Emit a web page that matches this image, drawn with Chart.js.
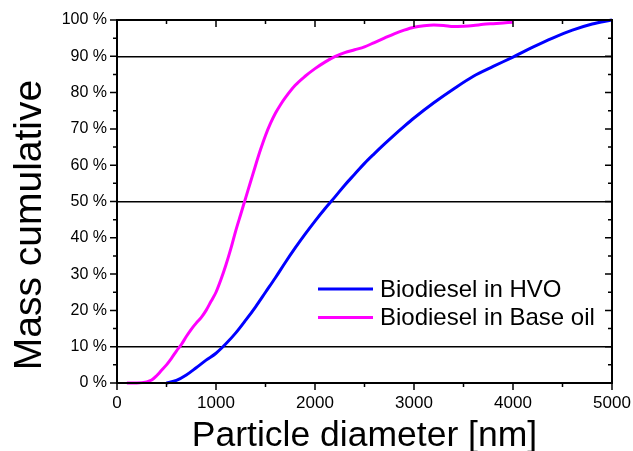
<!DOCTYPE html>
<html>
<head>
<meta charset="utf-8">
<script src="https://cdn.jsdelivr.net/npm/chart.js@4.4.0/dist/chart.umd.min.js"></script>
<style>
  html, body { margin: 0; padding: 0; background: #fff; }
</style>
</head>
<body>
<canvas id="psdChart" width="633" height="451"></canvas>
<script>
// particle size distribution
var seriesNames = ['Biodiesel in HVO', 'Biodiesel in Base oil'];
var seriesColors = ['#0000ff', '#ff00ff'];

var hvoDiameter = [500, 600, 700, 800, 900, 1000, 1100, 1200, 1300, 1400, 1500, 1600, 1700, 1800, 1900, 2000,
    2100, 2200, 2300, 2400, 2500, 2600, 2700, 2800, 2900, 3000, 3200, 3400, 3600, 3800, 4000, 4200, 4400, 4600, 4800, 5000];
var hvoMass = [0, 0.7, 2.2, 4.2, 6.3, 8.2, 10.8, 13.8, 17.3, 21, 25, 29, 33.2, 37.2, 41, 44.6,
    48, 51.2, 54.5, 57.5, 60.5, 63.2, 65.8, 68.3, 70.7, 73, 77.2, 81, 84.5, 87.2, 89.8, 92.5, 95, 97.2, 98.9, 100];

var baseDiameter = [100, 200, 300, 350, 400, 450, 500, 550, 600, 650, 700, 750, 800, 850, 900, 950, 1000,
    1050, 1100, 1150, 1200, 1250, 1300, 1350, 1400, 1450, 1500, 1550, 1600, 1650, 1700, 1800, 1900, 2000, 2100, 2200,
    2300, 2400, 2500, 2600, 2700, 2800, 2900, 3000, 3100, 3200, 3300, 3400, 3500, 3600, 3700, 3800, 3900, 4000];
var baseMass = [0, 0, 0.3, 0.8, 2, 3.5, 5, 6.8, 8.8, 10.6, 12.8, 14.8, 16.5, 18, 20, 22.5, 25,
    28.5, 32.5, 37, 42, 46.5, 51, 55.5, 60, 64.3, 68.2, 71.5, 74.3, 76.6, 78.6, 82, 84.5, 86.6, 88.4, 89.9,
    91, 91.8, 92.6, 93.8, 95, 96.2, 97.2, 98, 98.4, 98.6, 98.5, 98.2, 98.3, 98.5, 98.8, 99, 99.2, 99.4];

var xTickValues = [0, 1000, 2000, 3000, 4000, 5000];
var yTickValues = [0, 10, 20, 30, 40, 50, 60, 70, 80, 90, 100];
var refLines = [10, 50, 90];

function toPoints(xs, ys) {
    return xs.map(function (x, i) { return { x: x, y: ys[i] }; });
}

var fontFamily = '"Liberation Sans", Arial, sans-serif';

// frame, major/minor ticks, y title and legend drawn on top
var framePlugin = {
    id: 'frame',
    afterDraw: function (chart) {
        var c = chart.ctx, a = chart.chartArea;
        var xs = chart.scales.x, ys = chart.scales.y;
        c.save();
        c.strokeStyle = '#000';
        c.lineWidth = 2;
        c.strokeRect(a.left, a.top, a.right - a.left, a.bottom - a.top);

        c.lineWidth = 1.5;
        c.beginPath();
        for (var v = 0; v <= 100; v += 5) {
            var py = ys.getPixelForValue(v);
            var len = (v % 10 === 0) ? 7 : 4;
            c.moveTo(a.left - len, py); c.lineTo(a.left, py);
            c.moveTo(a.right, py); c.lineTo(a.right - len, py);
        }
        for (var d = 0; d <= 5000; d += 500) {
            var px = xs.getPixelForValue(d);
            var l2 = (d % 1000 === 0) ? 7 : 4;
            c.moveTo(px, a.bottom); c.lineTo(px, a.bottom + l2);
            c.moveTo(px, a.top); c.lineTo(px, a.top + l2);
        }
        c.stroke();

        // y axis title, a little below the middle like the original
        c.fillStyle = '#000';
        c.font = '39px ' + fontFamily;
        c.textAlign = 'center';
        c.textBaseline = 'middle';
        c.translate(30, 225);
        c.rotate(-Math.PI / 2);
        c.fillText('Mass cumulative', 0, 0);
        c.setTransform(1, 0, 0, 1, 0, 0);

        // legend
        c.font = '24px ' + fontFamily;
        c.textAlign = 'left';
        chart.data.datasets.forEach(function (ds, i) {
            var ly = 289 + i * 28.5;
            c.strokeStyle = ds.borderColor;
            c.lineWidth = 3;
            c.beginPath();
            c.moveTo(318, ly); c.lineTo(373, ly);
            c.stroke();
            c.fillText(ds.label, 380, ly + 1);
        });
        c.restore();
    }
};

new Chart(document.getElementById('psdChart').getContext('2d'), {
    type: 'line',
    data: {
        datasets: [{
            label: seriesNames[0],
            data: toPoints(hvoDiameter, hvoMass),
            borderColor: seriesColors[0],
            borderWidth: 3,
            pointRadius: 0,
            cubicInterpolationMode: 'monotone',
            clip: 4
        }, {
            label: seriesNames[1],
            data: toPoints(baseDiameter, baseMass),
            borderColor: seriesColors[1],
            borderWidth: 3,
            pointRadius: 0,
            cubicInterpolationMode: 'monotone',
            clip: 4
        }]
    },
    options: {
        responsive: false,
        animation: false,
        layout: { padding: { top: 20, right: 21, left: 0, bottom: 0 } },
        plugins: {
            legend: { display: false },
            tooltip: { enabled: false }
        },
        scales: {
            x: {
                type: 'linear',
                min: 0,
                max: 5000,
                afterFit: function (s) { s.height = 68; s.paddingLeft = 0; s.paddingRight = 0; },
                afterBuildTicks: function (s) { s.ticks = xTickValues.map(function (v) { return { value: v }; }); },
                ticks: {
                    color: '#000', font: { family: fontFamily, size: 17 }, padding: 10, maxRotation: 0,
                    callback: function (v) { return String(v); }
                },
                grid: { display: false, drawTicks: false },
                border: { display: false },
                title: { display: true, text: 'Particle diameter [nm]', color: '#000',
                         font: { family: fontFamily, size: 35.5 }, padding: { top: 0, bottom: -7 } }
            },
            y: {
                min: 0,
                max: 100,
                afterFit: function (s) { s.width = 117; },
                afterBuildTicks: function (s) { s.ticks = yTickValues.map(function (v) { return { value: v }; }); },
                ticks: {
                    color: '#000', font: { family: fontFamily, size: 16 }, padding: 10,
                    callback: function (v) { return v + ' %'; }
                },
                grid: {
                    drawTicks: false,
                    lineWidth: 1.5,
                    color: function (ctx) {
                        return refLines.indexOf(ctx.tick.value) >= 0 ? '#000' : 'rgba(0,0,0,0)';
                    }
                },
                border: { display: false },
                title: { display: false }
            }
        }
    },
    plugins: [framePlugin]
});
</script>
</body>
</html>
